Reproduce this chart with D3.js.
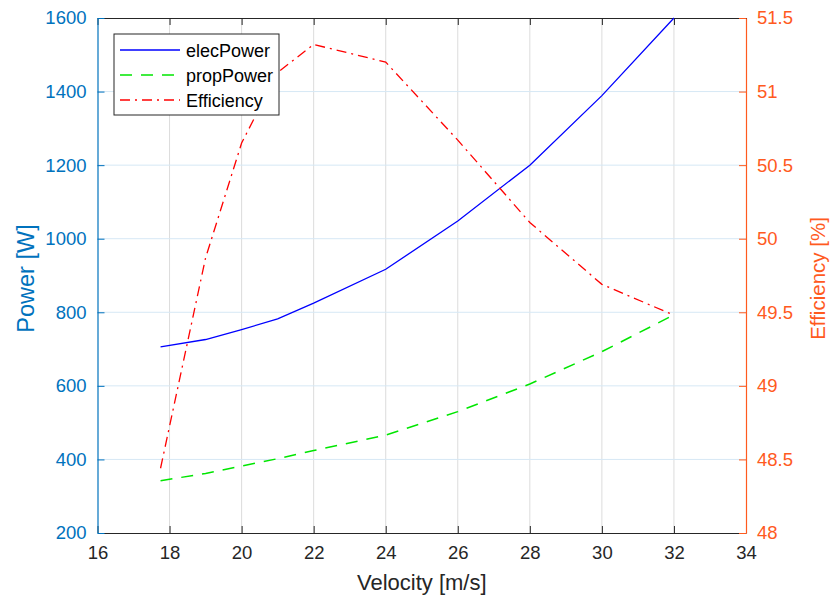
<!DOCTYPE html>
<html>
<head>
<meta charset="utf-8">
<script src="https://cdn.jsdelivr.net/npm/d3@7"></script>
<style>
  html, body { margin: 0; padding: 0; background: #ffffff; }
  svg { display: block; font-family: "Liberation Sans", Arial, Helvetica, sans-serif; }
</style>
</head>
<body>
<svg id="chart" width="831" height="599"></svg>
<script>
// Velocity sweep [m/s]
const velocity   = [17.75, 19, 20, 21, 22, 24, 26, 28, 30, 32];
// Electrical input power [W]
const elecPower  = [706, 726, 753, 782, 825, 917, 1048, 1200, 1389, 1600];
// Propulsive power [W]
const propPower  = [342, 362, 382, 402, 424, 466, 530, 605, 693, 793];
// Overall efficiency [%]
const efficiency = [48.44, 49.87, 50.65, 51.13, 51.32, 51.2, 50.67, 50.11, 49.69, 49.48];

const xTicks    = [16, 18, 20, 22, 24, 26, 28, 30, 32, 34];
const powTicks  = [200, 400, 600, 800, 1000, 1200, 1400, 1600];
const effTicks  = [48, 48.5, 49, 49.5, 50, 50.5, 51, 51.5];

const seriesNames = ["elecPower", "propPower", "Efficiency"];

const leftColor  = "#0072BD";
const rightColor = "#FF5A1E";
const axisGray   = "#262626";

const svg = d3.select("#chart");
const m = { left: 97.5, right: 746, top: 18, bottom: 533 };

const x  = d3.scaleLinear().domain([16, 34]).range([m.left, m.right]);
const yP = d3.scaleLinear().domain([200, 1600]).range([m.bottom, m.top]);
const yE = d3.scaleLinear().domain([48, 51.5]).range([m.bottom, m.top]);

// Grid
const grid = svg.append("g");
grid.selectAll("line.vx").data(xTicks.slice(1, -1)).join("line")
  .attr("x1", d => x(d)).attr("x2", d => x(d))
  .attr("y1", m.top).attr("y2", m.bottom)
  .attr("stroke", "#dcdcdc").attr("stroke-width", 1);
grid.selectAll("line.hy").data(powTicks.slice(1, -1)).join("line")
  .attr("x1", m.left).attr("x2", m.right)
  .attr("y1", d => yP(d)).attr("y2", d => yP(d))
  .attr("stroke", "#d6e8f5").attr("stroke-width", 1);

// Axes (ticks pointing inward)
const tickLen = 7;
const fontTick = "18.5px";

const bottomAxis = svg.append("g").attr("transform", `translate(0,${m.bottom})`)
  .call(d3.axisBottom(x).tickValues(xTicks).tickSizeInner(-tickLen).tickSizeOuter(0).tickPadding(13)
    .tickFormat(d3.format("d")));
bottomAxis.select(".domain").attr("stroke", axisGray);
bottomAxis.selectAll(".tick line").attr("stroke", axisGray);
bottomAxis.selectAll("text").attr("fill", axisGray).style("font-size", fontTick);

const topAxis = svg.append("g").attr("transform", `translate(0,${m.top})`)
  .call(d3.axisTop(x).tickValues(xTicks).tickSizeInner(-tickLen).tickSizeOuter(0).tickFormat(""));
topAxis.select(".domain").attr("stroke", axisGray);
topAxis.selectAll(".tick line").attr("stroke", axisGray);

const leftAxis = svg.append("g").attr("transform", `translate(${m.left},0)`)
  .call(d3.axisLeft(yP).tickValues(powTicks).tickSizeInner(-tickLen).tickSizeOuter(0).tickPadding(11)
    .tickFormat(d3.format("d")));
leftAxis.select(".domain").attr("stroke", leftColor).attr("stroke-width", 1.2);
leftAxis.selectAll(".tick line").attr("stroke", leftColor);
leftAxis.selectAll("text").attr("fill", leftColor).style("font-size", fontTick);

const rightAxis = svg.append("g").attr("transform", `translate(${m.right},0)`)
  .call(d3.axisRight(yE).tickValues(effTicks).tickSizeInner(-tickLen).tickSizeOuter(0).tickPadding(11)
    .tickFormat(d3.format("~g")));
rightAxis.select(".domain").attr("stroke", rightColor).attr("stroke-width", 1.2);
rightAxis.selectAll(".tick line").attr("stroke", rightColor);
rightAxis.selectAll("text").attr("fill", rightColor).style("font-size", fontTick);

// Axis titles
svg.append("text").attr("x", (m.left + m.right) / 2).attr("y", 590)
  .attr("text-anchor", "middle").attr("fill", axisGray).style("font-size", "22px")
  .text("Velocity [m/s]");
svg.append("text").attr("transform", `translate(34,${(m.top + m.bottom) / 2 + 3}) rotate(-90)`)
  .attr("text-anchor", "middle").attr("fill", leftColor).style("font-size", "23.5px")
  .text("Power [W]");
svg.append("text").attr("transform", `translate(825,${(m.top + m.bottom) / 2 + 3}) rotate(-90)`)
  .attr("text-anchor", "middle").attr("fill", rightColor).style("font-size", "20.5px")
  .text("Efficiency [%]");

// Series
const linePow = d3.line().x((d, i) => x(velocity[i])).y(d => yP(d));
const lineEff = d3.line().x((d, i) => x(velocity[i])).y(d => yE(d));

const styles = [
  { color: "#0000FF", dash: null },
  { color: "#00E600", dash: "12,9" },
  { color: "#FF0000", dash: "10,5,2,5" }
];

svg.append("path").datum(elecPower).attr("d", linePow)
  .attr("fill", "none").attr("stroke", styles[0].color).attr("stroke-width", 1.3);
svg.append("path").datum(propPower).attr("d", linePow)
  .attr("fill", "none").attr("stroke", styles[1].color).attr("stroke-width", 1.5)
  .attr("stroke-dasharray", styles[1].dash);
svg.append("path").datum(efficiency).attr("d", lineEff)
  .attr("fill", "none").attr("stroke", styles[2].color).attr("stroke-width", 1.3)
  .attr("stroke-dasharray", styles[2].dash);

// Legend
const lg = svg.append("g").attr("transform", "translate(114,34)");
lg.append("rect").attr("width", 165).attr("height", 81)
  .attr("fill", "#ffffff").attr("stroke", "#262626").attr("stroke-width", 1);
seriesNames.forEach((name, i) => {
  const yy = 16 + i * 25;
  lg.append("line").attr("x1", 6).attr("x2", 66).attr("y1", yy).attr("y2", yy)
    .attr("stroke", styles[i].color).attr("stroke-width", i === 1 ? 1.5 : 1.3)
    .attr("stroke-dasharray", styles[i].dash);
  lg.append("text").attr("x", 72).attr("y", yy + 6.5)
    .attr("fill", "#000").style("font-size", "18px").text(name);
});
</script>
</body>
</html>
